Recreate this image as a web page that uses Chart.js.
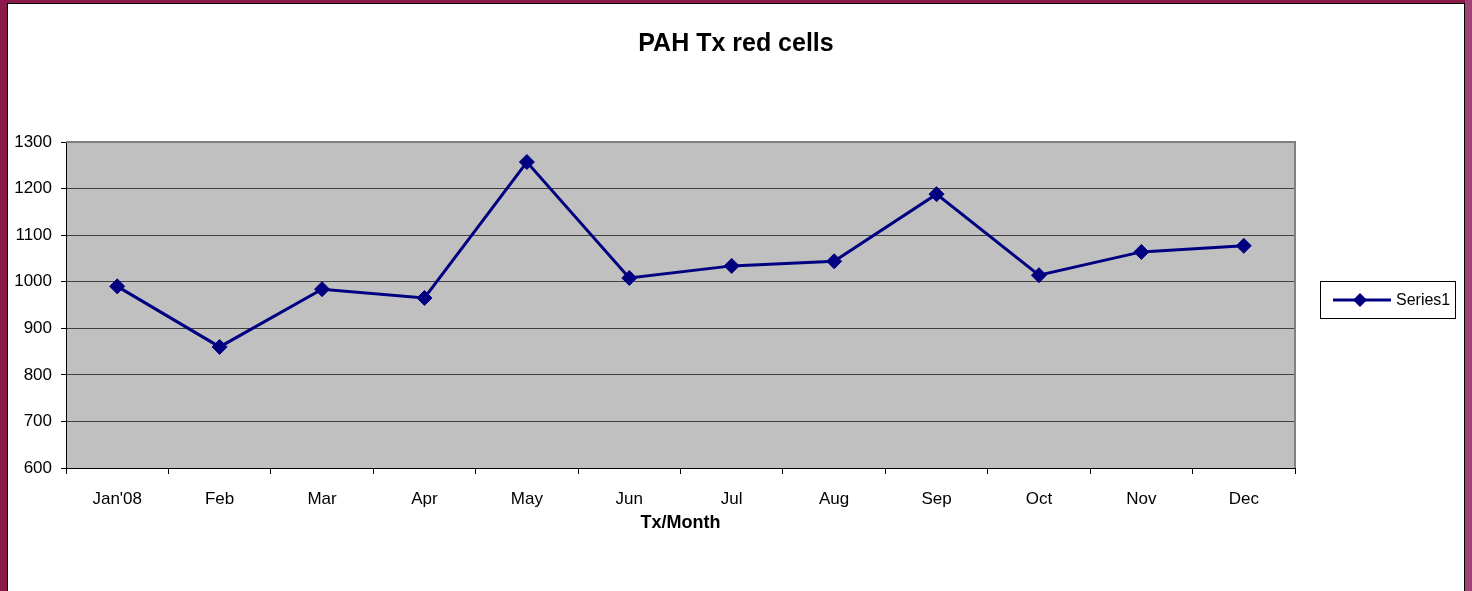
<!DOCTYPE html>
<html>
<head>
<meta charset="utf-8">
<script src="https://cdn.jsdelivr.net/npm/chart.js@4/dist/chart.umd.min.js"></script>
<style>
  html, body { margin: 0; padding: 0; width: 1472px; height: 591px; overflow: hidden; background: #8B1A4B; }
  #frame { position: absolute; left: 7px; top: 3px; width: 1456px; height: 600px; background: #ffffff; border: 1px solid #000; }
  #rightband { position: absolute; left: 1465px; top: 0; width: 7px; height: 591px; background: #9E4373; }
  #wrap { position: absolute; left: 0; top: 0; width: 1472px; height: 591px; }
</style>
</head>
<body>
<div id="rightband"></div>
<div id="frame"></div>
<div id="wrap"><canvas id="c" width="1472" height="591"></canvas></div>
<script>
const categories = ["Jan'08", "Feb", "Mar", "Apr", "May", "Jun", "Jul", "Aug", "Sep", "Oct", "Nov", "Dec"];
const series1 = [990, 860, 984, 965, 1257, 1008, 1034, 1044, 1188, 1014, 1064, 1077];
const seriesName = "Series1";
const yMin = 600, yMax = 1300, yStep = 100;
const chartTitle = "PAH Tx red cells";
const xTitle = "Tx/Month";

const FONT = "'Liberation Sans', Arial, sans-serif";
const NAVY = '#000080';

const plotBg = {
  id: 'plotBg',
  beforeDraw(chart) {
    const { ctx, chartArea: a } = chart;
    ctx.save();
    ctx.fillStyle = '#c0c0c0';
    ctx.fillRect(a.left, a.top, a.right - a.left, a.bottom - a.top);
    ctx.restore();
  },
  beforeDatasetsDraw(chart) {
    const { ctx, chartArea: a } = chart;
    ctx.save();
    ctx.strokeStyle = '#808080';
    ctx.lineWidth = 2;
    ctx.beginPath();
    ctx.moveTo(a.left, a.top);
    ctx.lineTo(a.right, a.top);
    ctx.lineTo(a.right, a.bottom);
    ctx.stroke();
    ctx.restore();
  }
};

const titleAndLegend = {
  id: 'titleAndLegend',
  afterDraw(chart) {
    const { ctx } = chart;
    const ds = chart.data.datasets[0];
    ctx.save();
    // title centred on the whole canvas
    ctx.fillStyle = '#000';
    ctx.font = "bold 25px " + FONT;
    ctx.textAlign = 'center';
    ctx.textBaseline = 'middle';
    ctx.fillText(chartTitle, 736, 44);
    // legend box
    const x = 1320.5, y = 281.5, w = 135, h = 37;
    ctx.fillStyle = '#ffffff';
    ctx.fillRect(x, y, w, h);
    ctx.strokeStyle = '#000';
    ctx.lineWidth = 1;
    ctx.strokeRect(x, y, w, h);
    const cy = y + h / 2;
    ctx.strokeStyle = NAVY;
    ctx.lineWidth = 3;
    ctx.beginPath();
    ctx.moveTo(1333, cy);
    ctx.lineTo(1391, cy);
    ctx.stroke();
    ctx.fillStyle = NAVY;
    ctx.beginPath();
    ctx.moveTo(1360, cy - 7);
    ctx.lineTo(1367, cy);
    ctx.lineTo(1360, cy + 7);
    ctx.lineTo(1353, cy);
    ctx.closePath();
    ctx.fill();
    ctx.fillStyle = '#000';
    ctx.font = "16px " + FONT;
    ctx.textAlign = 'left';
    ctx.fillText(ds.label, 1396, cy + 1);
    ctx.restore();
  }
};

new Chart(document.getElementById('c'), {
  type: 'line',
  data: {
    labels: categories,
    datasets: [{
      label: seriesName,
      data: series1,
      borderColor: NAVY,
      backgroundColor: NAVY,
      borderWidth: 3,
      pointStyle: 'rectRot',
      pointRadius: 7.5,
      pointHoverRadius: 7.5,
      pointBorderWidth: 1,
      pointBorderColor: NAVY,
      pointBackgroundColor: NAVY,
      tension: 0
    }]
  },
  options: {
    responsive: false,
    animation: false,
    events: [],
    layout: { padding: { left: 0, right: 177, top: 142, bottom: 57 } },
    plugins: {
      legend: { display: false },
      tooltip: { enabled: false },
      title: { display: false }
    },
    scales: {
      x: {
        type: 'category',
        offset: true,
        afterFit(scale) { scale.height = 66; },
        grid: { display: true, drawOnChartArea: false, drawTicks: true, tickLength: 6, tickColor: '#000', offset: true },
        border: { display: true, color: '#000', width: 1 },
        ticks: { color: '#000', font: { family: FONT, size: 17 }, padding: 15, maxRotation: 0, autoSkip: false },
        title: { display: true, text: xTitle, color: '#000', font: { family: FONT, size: 18, weight: 'bold' }, padding: { top: 0, bottom: 0 } }
      },
      y: {
        min: yMin, max: yMax,
        afterFit(scale) { scale.width = 66; },
        ticks: { stepSize: yStep, color: '#000', font: { family: FONT, size: 17 }, padding: 9, callback: (v) => String(v) },
        grid: {
          color: (c) => (c.tick && c.tick.value === yMax) ? 'rgba(0,0,0,0)' : '#404040',
          lineWidth: 1,
          tickLength: 5,
          tickColor: '#000'
        },
        border: { display: true, color: '#000', width: 1 }
      }
    }
  },
  plugins: [plotBg, titleAndLegend]
});
</script>
</body>
</html>
